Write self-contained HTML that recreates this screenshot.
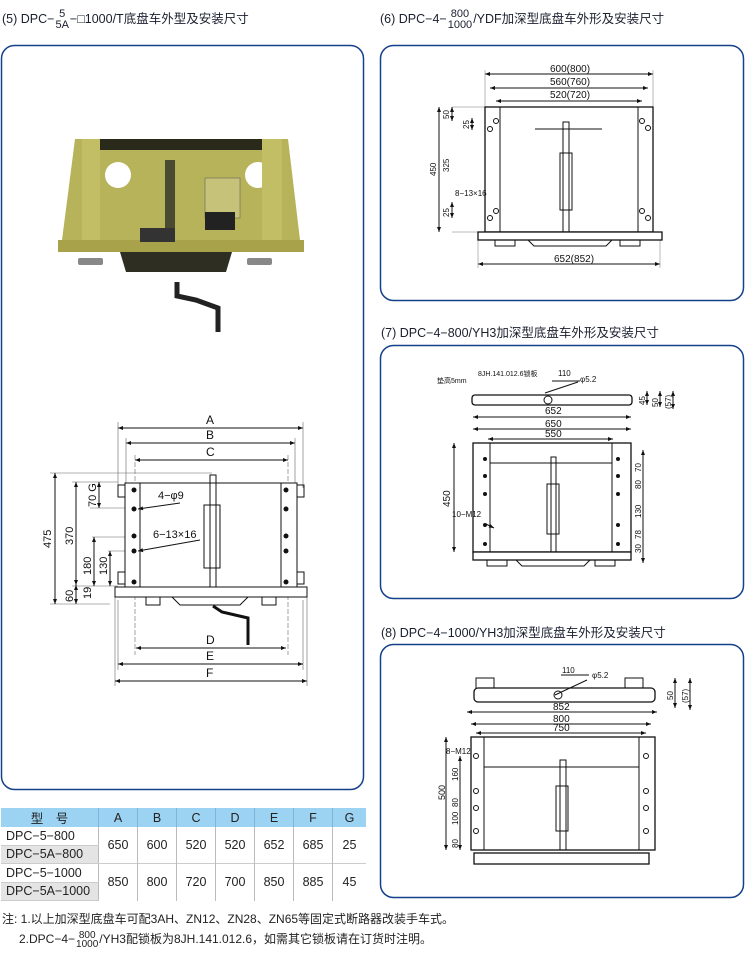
<!DOCTYPE html>
<html><head><meta charset="utf-8">
<style>
html,body{margin:0;padding:0;background:#fff;}
body{width:750px;height:954px;position:relative;overflow:hidden;font-family:"Liberation Sans","Noto Sans CJK SC",sans-serif;color:#222;}
.t{position:absolute;font-size:12.5px;white-space:nowrap;color:#1a1f2e}
.fr{display:inline-block;vertical-align:middle;text-align:center;font-size:11px;line-height:11px;margin:0 1px}
.fr span{display:block}
table{position:absolute;left:1px;top:808px;border-collapse:collapse;font-size:12.5px;}
td{border-right:1px solid #bbb;text-align:center;padding:0;height:17.5px;color:#222}
tr.h td{background:#9dd3f2;height:19px;border-right:1px solid #7fb6d8}
td.m{text-align:left;padding-left:5px;width:92px;border-bottom:1px solid #ccc}
td.g{background:#e4e4e4}
.note{position:absolute;left:2px;font-size:12px;color:#222;white-space:nowrap}
</style></head><body>

<div class="t" style="left:2px;top:8px">(5) DPC−<span class="fr"><span>5</span><span>5A</span></span>−□1000/T底盘车外型及安装尺寸</div>
<div class="t" style="left:380px;top:8px">(6) DPC−4−<span class="fr"><span>800</span><span>1000</span></span>/YDF加深型底盘车外形及安装尺寸</div>
<div class="t" style="left:381px;top:322px">(7) DPC−4−800/YH3加深型底盘车外形及安装尺寸</div>
<div class="t" style="left:381px;top:622px">(8) DPC−4−1000/YH3加深型底盘车外形及安装尺寸</div>

<svg width="750" height="954" style="position:absolute;left:0;top:0" font-family="Liberation Sans, sans-serif">
<defs>
<marker id="a" viewBox="0 0 10 10" refX="10" refY="5" markerWidth="7" markerHeight="5" orient="auto-start-reverse"><path d="M0,1 L10,5 L0,9 z" fill="#111"/></marker>
</defs>
<g fill="none" stroke="#15408c" stroke-width="1.5">
<rect x="1.5" y="45.5" width="362" height="744" rx="13"/>
<rect x="380.5" y="45.5" width="363" height="255" rx="13"/>
<rect x="380.5" y="345.5" width="363" height="253" rx="13"/>
<rect x="380.5" y="644.5" width="363" height="253" rx="13"/>
</g>

<!-- photo -->
<g>
<polygon points="75,139 288,139 300,240 62,240" fill="#b7b35a"/>
<polygon points="98,139 264,139 262,150 100,150" fill="#2a2a1a"/>
<polygon points="58,240 304,240 304,252 58,252" fill="#a8a24a"/>
<polygon points="120,252 232,252 226,272 126,272" fill="#2e2e22"/>
<circle cx="118" cy="175" r="13" fill="#fff"/>
<circle cx="258" cy="175" r="13" fill="#fff"/>
<rect x="165" y="160" width="10" height="80" fill="#4a4a30"/>
<rect x="205" y="178" width="35" height="40" fill="#c6c27a" stroke="#555" stroke-width="0.5"/>
<rect x="205" y="212" width="30" height="18" fill="#222"/>
<rect x="140" y="228" width="35" height="14" fill="#333"/>
<rect x="78" y="258" width="25" height="7" fill="#888" rx="2"/>
<rect x="247" y="258" width="25" height="7" fill="#888" rx="2"/>
<rect x="82" y="139" width="18" height="101" fill="#c2be65"/>
<rect x="262" y="139" width="20" height="101" fill="#c2be65"/>
<path d="M177,282 L177,296 L196,300 L218,308 L218,332" stroke="#222" stroke-width="5" fill="none"/>
</g>

<!-- left drawing -->
<g stroke="#111" stroke-width="1" fill="none" font-size="12" >
<line x1="118" y1="428" x2="303" y2="428" marker-start="url(#a)" marker-end="url(#a)"/>
<line x1="126" y1="443" x2="295" y2="443" marker-start="url(#a)" marker-end="url(#a)"/>
<line x1="135" y1="460" x2="288" y2="460" marker-start="url(#a)" marker-end="url(#a)"/>
<g stroke="#666" stroke-width="0.6">
<line x1="118" y1="422" x2="118" y2="488"/><line x1="303" y1="422" x2="303" y2="488"/>
<line x1="126" y1="438" x2="126" y2="488"/><line x1="295" y1="438" x2="295" y2="488"/>
<line x1="135" y1="455" x2="135" y2="655" stroke-dasharray="5,2"/><line x1="288" y1="455" x2="288" y2="655" stroke-dasharray="5,2"/>
<line x1="115" y1="590" x2="115" y2="686"/><line x1="307" y1="590" x2="307" y2="686"/>
<line x1="118" y1="600" x2="118" y2="670"/><line x1="303" y1="600" x2="303" y2="670"/>
<line x1="50" y1="473" x2="212" y2="473"/><line x1="50" y1="604" x2="110" y2="604"/>
<line x1="72" y1="482" x2="118" y2="482"/><line x1="90" y1="508" x2="135" y2="508"/>
<line x1="92" y1="537" x2="135" y2="537"/><line x1="108" y1="551" x2="135" y2="551"/>
<line x1="72" y1="586" x2="118" y2="586"/>
</g>
<rect x="125" y="483" width="172" height="104" fill="#fff"/>
<line x1="140" y1="483" x2="140" y2="587"/><line x1="281" y1="483" x2="281" y2="587"/>
<rect x="115" y="587" width="192" height="10" fill="#fff"/>
<rect x="118" y="485" width="7" height="12"/><rect x="297" y="485" width="7" height="12"/>
<rect x="118" y="572" width="7" height="12"/><rect x="297" y="572" width="7" height="12"/>
<rect x="146" y="597" width="14" height="8"/><rect x="262" y="597" width="14" height="8"/>
<path d="M172,597 L180,605 L240,605 L248,597"/>
<rect x="204" y="505" width="16" height="63"/>
<rect x="210" y="475" width="6" height="112"/>
<path d="M213,606 L222,612 L248,618 L248,645" stroke-width="3"/>
<g fill="#111" stroke="none">
<circle cx="134" cy="490" r="2.5"/><circle cx="134" cy="509" r="2.5"/><circle cx="134" cy="536" r="2.5"/><circle cx="134" cy="551" r="2.5"/><circle cx="134" cy="582" r="2.5"/>
<circle cx="286" cy="490" r="2.5"/><circle cx="286" cy="509" r="2.5"/><circle cx="286" cy="536" r="2.5"/><circle cx="286" cy="551" r="2.5"/><circle cx="286" cy="582" r="2.5"/>
</g>
<line x1="55" y1="473" x2="55" y2="604" marker-start="url(#a)" marker-end="url(#a)"/>
<line x1="76" y1="482" x2="76" y2="585" marker-start="url(#a)" marker-end="url(#a)"/>
<line x1="99" y1="482" x2="99" y2="508" marker-start="url(#a)" marker-end="url(#a)"/>
<line x1="94" y1="537" x2="94" y2="586" marker-start="url(#a)" marker-end="url(#a)"/>
<line x1="110" y1="551" x2="110" y2="586" marker-start="url(#a)" marker-end="url(#a)"/>
<line x1="76" y1="585" x2="76" y2="604" marker-start="url(#a)" marker-end="url(#a)"/>
<line x1="180" y1="503" x2="138" y2="509" marker-end="url(#a)"/>
<line x1="200" y1="540" x2="138" y2="551" marker-end="url(#a)"/>
<line x1="136" y1="648" x2="286" y2="648" marker-start="url(#a)" marker-end="url(#a)"/>
<line x1="118" y1="664" x2="303" y2="664" marker-start="url(#a)" marker-end="url(#a)"/>
<line x1="115" y1="681" x2="307" y2="681" marker-start="url(#a)" marker-end="url(#a)"/>
</g>
<g font-size="12" fill="#111">
<text x="206" y="424">A</text><text x="206" y="439">B</text><text x="206" y="456">C</text>
<text x="206" y="644">D</text><text x="206" y="660">E</text><text x="206" y="677">F</text>
<text x="158" y="499" font-size="11">4−φ9</text><text x="153" y="538" font-size="11">6−13×16</text>
<text transform="translate(51,548) rotate(-90)" font-size="11">475</text>
<text transform="translate(73,545) rotate(-90)" font-size="11">370</text>
<text transform="translate(96,507) rotate(-90)" font-size="11">70 G</text>
<text transform="translate(91,575) rotate(-90)" font-size="11">180</text>
<text transform="translate(107,575) rotate(-90)" font-size="11">130</text>
<text transform="translate(73,602) rotate(-90)" font-size="11">60</text>
<text transform="translate(91,599) rotate(-90)" font-size="11">19</text>
</g>

<!-- panel 6 -->
<g stroke="#111" stroke-width="1" fill="none">
<line x1="485" y1="74" x2="653" y2="74" marker-start="url(#a)" marker-end="url(#a)"/>
<line x1="490" y1="88" x2="648" y2="88" marker-start="url(#a)" marker-end="url(#a)"/>
<line x1="496" y1="101" x2="642" y2="101" marker-start="url(#a)" marker-end="url(#a)"/>
<line x1="478" y1="264" x2="660" y2="264" marker-start="url(#a)" marker-end="url(#a)"/>
<g stroke="#777" stroke-width="0.5"><line x1="485" y1="70" x2="485" y2="107"/><line x1="653" y1="70" x2="653" y2="107"/><line x1="478" y1="240" x2="478" y2="268"/><line x1="660" y1="240" x2="660" y2="268"/><line x1="452" y1="107" x2="485" y2="107"/><line x1="452" y1="232" x2="485" y2="232"/></g>
<rect x="485" y="107" width="168" height="125" fill="#fff" stroke-width="1.3"/>
<line x1="500" y1="107" x2="500" y2="232"/><line x1="638" y1="107" x2="638" y2="232"/>
<rect x="478" y="232" width="184" height="8" fill="#fff" stroke-width="1.3"/>
<path d="M495,240 v6 h20 v-6 M620,240 v6 h20 v-6 M528,240 l6,6 h72 l6,-6"/>
<line x1="535" y1="129" x2="602" y2="129"/>
<rect x="563" y="122" width="6" height="110"/>
<rect x="560" y="153" width="12" height="57"/>
<line x1="439" y1="107" x2="439" y2="232" marker-start="url(#a)" marker-end="url(#a)"/>
<line x1="452" y1="107" x2="452" y2="121" marker-start="url(#a)" marker-end="url(#a)"/>
<line x1="452" y1="202" x2="452" y2="218" marker-start="url(#a)" marker-end="url(#a)"/>
<line x1="472" y1="118" x2="472" y2="130" marker-start="url(#a)" marker-end="url(#a)"/>
<circle cx="496" cy="121" r="2.5"/><circle cx="490" cy="129" r="2.5"/><circle cx="496" cy="211" r="2.5"/><circle cx="490" cy="218" r="2.5"/>
<circle cx="642" cy="121" r="2.5"/><circle cx="648" cy="128" r="2.5"/><circle cx="642" cy="211" r="2.5"/><circle cx="648" cy="218" r="2.5"/>
</g>
<g font-size="10" fill="#111">
<text x="550" y="72">600(800)</text><text x="550" y="85">560(760)</text><text x="550" y="98">520(720)</text><text x="554" y="262">652(852)</text>
<text x="455" y="196" font-size="8">8−13×16</text>
<text transform="translate(436,176) rotate(-90)" font-size="8">450</text>
<text transform="translate(449,172) rotate(-90)" font-size="8">325</text>
<text transform="translate(449,119) rotate(-90)" font-size="8">50</text>
<text transform="translate(449,217) rotate(-90)" font-size="8">25</text>
<text transform="translate(469,129) rotate(-90)" font-size="8">25</text>
</g>

<!-- panel 7 -->
<g stroke="#111" stroke-width="1" fill="none">
<rect x="472" y="395" width="160" height="10" rx="3" fill="#fff" stroke-width="1.3"/>
<path d="M545,393 L578,382"/><circle cx="548" cy="400" r="4"/>
<line x1="473" y1="417" x2="631" y2="417" marker-start="url(#a)" marker-end="url(#a)"/>
<line x1="473" y1="429" x2="631" y2="429" marker-start="url(#a)" marker-end="url(#a)"/>
<line x1="488" y1="439" x2="613" y2="439" marker-start="url(#a)" marker-end="url(#a)"/>
<line x1="552" y1="381" x2="580" y2="381"/>
<rect x="473" y="443" width="158" height="109" fill="#fff" stroke-width="1.3"/>
<line x1="490" y1="443" x2="490" y2="552"/><line x1="612" y1="443" x2="612" y2="552"/>
<line x1="490" y1="463" x2="612" y2="463"/>
<rect x="473" y="552" width="158" height="8" fill="#fff" stroke-width="1.3"/>
<path d="M487,560 v6 h20 v-6 M595,560 v6 h20 v-6 M516,560 l6,6 h62 l6,-6"/>
<rect x="551" y="457" width="5" height="95"/><rect x="547" y="484" width="12" height="50"/>
<line x1="454" y1="443" x2="454" y2="552" marker-start="url(#a)" marker-end="url(#a)"/>
<line x1="643" y1="450" x2="643" y2="563" marker-start="url(#a)" marker-end="url(#a)"/>
<line x1="647" y1="391" x2="647" y2="405" marker-start="url(#a)" marker-end="url(#a)"/>
<line x1="660" y1="391" x2="660" y2="407" marker-start="url(#a)" marker-end="url(#a)"/>
<line x1="673" y1="391" x2="673" y2="409" marker-start="url(#a)" marker-end="url(#a)"/>
<line x1="486" y1="524" x2="494" y2="528" marker-end="url(#a)"/>
<g fill="#111" stroke="none">
<circle cx="485" cy="459" r="2"/><circle cx="485" cy="476" r="2"/><circle cx="485" cy="494" r="2"/><circle cx="485" cy="525" r="2"/><circle cx="485" cy="544" r="2"/>
<circle cx="618" cy="459" r="2"/><circle cx="618" cy="476" r="2"/><circle cx="618" cy="494" r="2"/><circle cx="618" cy="525" r="2"/><circle cx="618" cy="544" r="2"/></g>
</g>
<g font-size="10" fill="#111">
<text x="545" y="414">652</text><text x="545" y="427">650</text><text x="545" y="437">550</text>
<text x="437" y="383" font-size="7">垫高5mm</text><text x="478" y="376" font-size="7">8JH.141.012.6锁板</text>
<text x="558" y="376" font-size="8">110</text><text x="580" y="382" font-size="8">φ5.2</text>
<text x="452" y="517" font-size="8">10−M12</text>
<text transform="translate(450,507) rotate(-90)" font-size="10">450</text>
<text transform="translate(645,405) rotate(-90)" font-size="8">45</text>
<text transform="translate(658,407) rotate(-90)" font-size="8">50</text>
<text transform="translate(671,409) rotate(-90)" font-size="8">(57)</text>
<text transform="translate(641,472) rotate(-90)" font-size="8">70</text>
<text transform="translate(641,489) rotate(-90)" font-size="8">80</text>
<text transform="translate(641,518) rotate(-90)" font-size="8">130</text>
<text transform="translate(641,539) rotate(-90)" font-size="8">78</text>
<text transform="translate(641,553) rotate(-90)" font-size="8">30</text>
</g>

<!-- panel 8 -->
<g stroke="#111" stroke-width="1" fill="none">
<rect x="474" y="688" width="181" height="14" rx="4" fill="#fff" stroke-width="1.3"/>
<path d="M476,688 v-10 h18 v10 M625,688 v-10 h18 v10"/>
<path d="M555,695 L587,680"/><circle cx="558" cy="695" r="4"/>
<line x1="467" y1="712" x2="657" y2="712" marker-start="url(#a)" marker-end="url(#a)"/>
<line x1="471" y1="724" x2="651" y2="724" marker-start="url(#a)" marker-end="url(#a)"/>
<line x1="476" y1="733" x2="646" y2="733" marker-start="url(#a)" marker-end="url(#a)"/>
<line x1="561" y1="675" x2="589" y2="675"/>
<rect x="471" y="737" width="184" height="113" fill="#fff" stroke-width="1.3"/>
<line x1="484" y1="737" x2="484" y2="850"/><line x1="639" y1="737" x2="639" y2="850"/>
<line x1="484" y1="767" x2="639" y2="767"/>
<rect x="474" y="853" width="175" height="11" fill="#fff" stroke-width="1.3"/>
<rect x="560" y="760" width="6" height="90"/><rect x="556" y="786" width="12" height="45"/>
<line x1="446" y1="737" x2="446" y2="850" marker-start="url(#a)" marker-end="url(#a)"/>
<line x1="460" y1="756" x2="460" y2="850" marker-start="url(#a)" marker-end="url(#a)"/>
<line x1="675" y1="678" x2="675" y2="708" marker-start="url(#a)" marker-end="url(#a)"/>
<line x1="690" y1="678" x2="690" y2="710" marker-start="url(#a)" marker-end="url(#a)"/>
<g fill="#fff"><circle cx="476" cy="756" r="2.5"/><circle cx="476" cy="791" r="2.5"/><circle cx="476" cy="808" r="2.5"/><circle cx="476" cy="831" r="2.5"/>
<circle cx="646" cy="756" r="2.5"/><circle cx="646" cy="791" r="2.5"/><circle cx="646" cy="808" r="2.5"/><circle cx="646" cy="831" r="2.5"/></g>
</g>
<g font-size="10" fill="#111">
<text x="553" y="710">852</text><text x="553" y="722">800</text><text x="553" y="731">750</text>
<text x="562" y="673" font-size="8">110</text><text x="592" y="678" font-size="8">φ5.2</text>
<text x="446" y="754" font-size="8">8−M12</text>
<text transform="translate(445,800) rotate(-90)" font-size="9">500</text>
<text transform="translate(458,781) rotate(-90)" font-size="8">160</text>
<text transform="translate(458,807) rotate(-90)" font-size="8">80</text>
<text transform="translate(458,825) rotate(-90)" font-size="8">100</text>
<text transform="translate(458,848) rotate(-90)" font-size="8">80</text>
<text transform="translate(673,700) rotate(-90)" font-size="8">50</text>
<text transform="translate(688,703) rotate(-90)" font-size="8">(57)</text>
</g>
</svg>

<table>
<tr class="h"><td style="width:97px">型　号</td><td style="width:38px">A</td><td style="width:38px">B</td><td style="width:38px">C</td><td style="width:38px">D</td><td style="width:38px">E</td><td style="width:38px">F</td><td style="width:33px;border-right:none">G</td></tr>
<tr><td class="m">DPC−5−800</td><td rowspan="2">650</td><td rowspan="2">600</td><td rowspan="2">520</td><td rowspan="2">520</td><td rowspan="2">652</td><td rowspan="2">685</td><td rowspan="2" style="border-right:none">25</td></tr>
<tr><td class="m g">DPC−5A−800</td></tr>
<tr><td class="m" style="border-top:1px solid #ccc">DPC−5−1000</td><td rowspan="2" style="border-top:1px solid #ccc">850</td><td rowspan="2" style="border-top:1px solid #ccc">800</td><td rowspan="2" style="border-top:1px solid #ccc">720</td><td rowspan="2" style="border-top:1px solid #ccc">700</td><td rowspan="2" style="border-top:1px solid #ccc">850</td><td rowspan="2" style="border-top:1px solid #ccc">885</td><td rowspan="2" style="border-right:none;border-top:1px solid #ccc">45</td></tr>
<tr><td class="m g">DPC−5A−1000</td></tr>
</table>

<div class="note" style="top:910px">注: 1.以上加深型底盘车可配3AH、ZN12、ZN28、ZN65等固定式断路器改装手车式。</div>
<div class="note" style="top:930px;left:19px">2.DPC−4−<span class="fr" style="font-size:10px;line-height:9px"><span>800</span><span>1000</span></span>/YH3配锁板为8JH.141.012.6，如需其它锁板请在订货时注明。</div>
</body></html>
